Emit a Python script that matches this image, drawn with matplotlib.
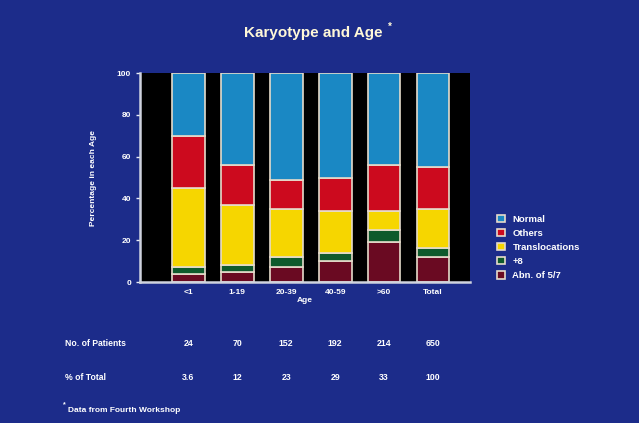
import matplotlib
matplotlib.use("Agg")
import matplotlib.pyplot as plt
import numpy as np
from matplotlib.transforms import blended_transform_factory

plt.rcParams['font.family'] = ['Liberation Sans', 'DejaVu Sans']
plt.rcParams['font.weight'] = 'bold'

categories = ["<1", "1-19", "20-39", "40-59", ">60", "Total"]
abn57 = [4, 5, 7, 10, 19, 12]
plus8 = [3, 3, 5, 4, 6, 4.5]
transloc = [38, 29, 23, 20, 9, 18.5]
others = [25, 19, 14, 16, 22, 20]
normal = [30, 44, 51, 50, 44, 45]

n_patients = ["24", "70", "152", "192", "214", "650"]
pct_total = ["3.6", "12", "23", "29", "33", "100"]

series = [
    ("Abn. of 5/7", abn57, "#6a0a22"),
    ("+8", plus8, "#0e5a2c"),
    ("Translocations", transloc, "#f6d600"),
    ("Others", others, "#cc0a1e"),
    ("Normal", normal, "#1a88c4"),
]

BG = "#1c2c8a"
fig = plt.figure(figsize=(6.39, 4.23), dpi=100, facecolor=BG)
ax = fig.add_axes([0.219, 0.3333, 0.516, 0.494])
ax.set_facecolor("black")

x = np.arange(len(categories))
bottom = np.zeros(len(categories))
handles = []
for name, vals, col in series:
    v = np.array(vals, dtype=float)
    b = ax.bar(x, v, 0.67, bottom=bottom, color=col, edgecolor="#e6dccb",
               linewidth=1.2, label=name)
    handles.append(b)
    bottom += v

ax.set_xlim(-0.99, 5.75)
ax.set_ylim(0, 100)
ax.set_yticks([0, 20, 40, 60, 80, 100])
ax.set_xticks(x)
ax.set_xticklabels(categories)
for s in ["top", "right"]:
    ax.spines[s].set_visible(False)
for s in ["left", "bottom"]:
    ax.spines[s].set_color("#cfd3df")
    ax.spines[s].set_linewidth(1.8)
ax.tick_params(colors="#e8ecf5", labelsize=6, length=3, width=1)
ax.tick_params(axis="x", length=0, pad=5)
for lab in ax.get_xticklabels() + ax.get_yticklabels():
    lab.set_color("white")
    lab.set_fontweight("bold")

ax.set_ylabel("Percentage in each Age", color="white", fontsize=6,
              fontweight="bold", labelpad=14)
ax.set_xlabel("Age", color="white", fontsize=6, fontweight="bold", labelpad=1)

fig.text(0.49, 0.922, "Karyotype and Age", color="#fff8d8", fontsize=11,
         fontweight="bold", ha="center", va="center")
fig.text(0.607, 0.937, "*", color="#fff8d8", fontsize=7, fontweight="bold",
         ha="left", va="center")

leg = fig.legend(handles=handles[::-1], labels=[h.get_label() for h in handles[::-1]],
                 loc="center left", bbox_to_anchor=(0.765, 0.415), frameon=False,
                 fontsize=6.8, handlelength=0.8, handleheight=0.8,
                 labelspacing=0.55, handletextpad=0.8)
for t in leg.get_texts():
    t.set_color("white")
    t.set_fontweight("bold")

tr = blended_transform_factory(ax.transData, fig.transFigure)
y1 = 1 - 346 / 423
y2 = 1 - 380 / 423
fig.text(0.102, y1, "No. of Patients", color="white", fontsize=6.2,
         fontweight="bold", va="baseline")
fig.text(0.102, y2, "% of Total", color="white", fontsize=6.2,
         fontweight="bold", va="baseline")
for i in range(len(categories)):
    ax.text(x[i], y1, n_patients[i], transform=tr, color="white",
            fontsize=6.3, fontweight="bold", ha="center", va="baseline")
    ax.text(x[i], y2, pct_total[i], transform=tr, color="white",
            fontsize=6.3, fontweight="bold", ha="center", va="baseline")
fig.text(0.106, 1 - 410 / 423, "Data from Fourth Workshop", color="white",
         fontsize=6, fontweight="bold", va="center")
fig.text(0.099, 1 - 405 / 423, "*", color="white", fontsize=5,
         fontweight="bold", va="center")

fig.savefig("out.png", dpi=100, facecolor=BG)
